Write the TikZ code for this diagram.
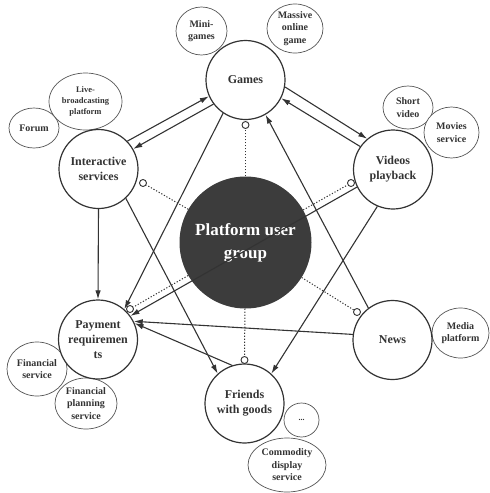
\documentclass[tikz,border=0pt]{standalone}
\usepackage{fontspec}
\setmainfont{Liberation Serif}
\usetikzlibrary{shapes.geometric,arrows.meta}
\definecolor{ink}{HTML}{333333}
\definecolor{thin}{HTML}{555555}
\definecolor{hubfill}{HTML}{3C3C3C}
\begin{document}
\begin{tikzpicture}[x=1pt,y=-1pt,
 main/.style={circle,draw=ink,line width=1.2pt,fill=white,minimum size=79pt,inner sep=0pt,align=center,font=\bfseries\fontsize{12}{15}\selectfont,text=ink},
 sub/.style={ellipse,draw=thin,line width=0.7pt,fill=white,inner sep=0pt,align=center,font=\bfseries\fontsize{10}{12.5}\selectfont,text=ink},
 link/.style={draw=ink,line width=1.1pt,-{Latex[length=9pt,width=5.5pt]}},
 dots/.style={draw=ink,line width=1pt,dash pattern=on 1.2pt off 1.8pt},
 tip/.style={circle,draw=ink,line width=0.9pt,fill=white,minimum size=7pt,inner sep=0pt}
]
\useasboundingbox (0,0) rectangle (490,493);
% satellite ellipses
\node[sub,minimum width=51pt,minimum height=48pt] (mini) at (201.5,31) {Mini-\\games};
\node[sub,minimum width=56pt,minimum height=49pt] (mmo) at (295,28.5) {Massive\\online\\game};
\node[sub,minimum width=50pt,minimum height=40pt] (forum) at (34,128) {Forum};
\node[sub,minimum width=73pt,minimum height=57pt,font=\bfseries\fontsize{8.5}{11}\selectfont] (live) at (85.5,101.5) {Live-\\broadcasting\\platform};
\node[sub,minimum width=50pt,minimum height=43pt] (short) at (408,107.5) {Short\\video};
\node[sub,minimum width=55pt,minimum height=51pt] (movies) at (451.5,132.5) {Movies\\service};
\node[sub,minimum width=57pt,minimum height=50pt] (media) at (460.5,333) {Media\\platform};
\node[sub,minimum width=35pt,minimum height=34pt,font=\bfseries\fontsize{8}{10}\selectfont] (etc) at (301.5,420) {...};
\node[sub,minimum width=78pt,minimum height=54pt] (commodity) at (287,465) {Commodity\\display\\service};
\node[sub,minimum width=60pt,minimum height=54pt] (finsvc) at (37,369) {Financial\\service};
\node[sub,minimum width=62pt,minimum height=51pt] (finplan) at (86,403.5) {Financial\\planning\\service};
% main circles
\node[main] (games) at (245.5,80) {Games};
\node[main] (inter) at (98.5,169) {Interactive\\services};
\node[main] (video) at (393,169.5) {Videos\\playback};
\node[main] (pay) at (98,339.5) {Payment\\requiremen\\ts};
\node[main] (friends) at (244.5,403.5) {Friends\\with goods};
\node[main] (news) at (392.5,340) {News};
\node[circle,fill=hubfill,minimum size=132pt,inner sep=0pt,align=center,text=white,font=\bfseries\fontsize{17}{23}\selectfont] (hub) at (245.5,242.5) {Platform user\\group};
% arrows
\draw[link] (inter.44) -- (games.204);
\draw[link] (games.217) -- (inter.30);
\draw[link] (games.350) -- (video.130);
\draw[link] (video.145) -- (games.333);
\draw[link] (inter.south) -- (pay.north);
\draw[link] (inter.-47) -- (friends.132);
\draw[link] (games.236.7) -- (pay.49.7);
\draw[link] (video.206.6) -- (pay.36.6);
\draw[link] (news.172.8) -- (pay.27);
\draw[link] (friends.108.4) -- (pay.24);
\draw[link] (news.127.7) -- (games.300.7);
\draw[link] (video.247) -- (friends.48);
% dotted links with open ends
\node[tip] (tg) at (245.5,125) {};
\node[tip] (ti) at (143,183) {};
\node[tip] (tv) at (351,183) {};
\node[tip] (tn) at (357,312) {};
\node[tip] (tf) at (244.5,360) {};
\node[tip] (tp) at (130,309) {};
\draw[dots] (hub) -- (tg);
\draw[dots] (hub) -- (ti);
\draw[dots] (hub) -- (tv);
\draw[dots] (hub) -- (tn);
\draw[dots] (hub) -- (tf);
\draw[dots] (hub) -- (tp);
\end{tikzpicture}
\end{document}
